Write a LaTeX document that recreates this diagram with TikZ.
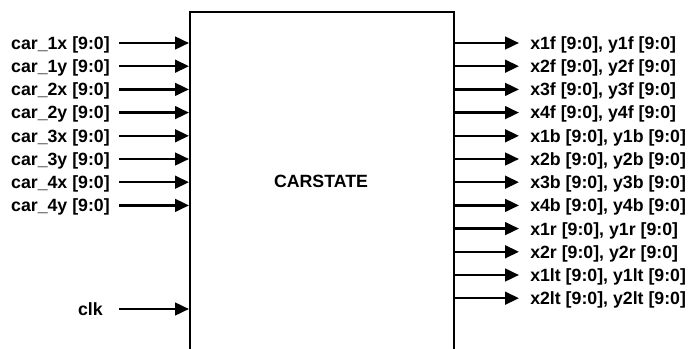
\documentclass[tikz,border=0pt]{standalone}
\usepackage{fontspec}
\setmainfont{Liberation Sans}
\usetikzlibrary{arrows.meta}

\begin{document}
\begin{tikzpicture}[x=0.75pt, y=-0.75pt, >={Triangle[length=10.5pt,width=9.5pt]},
  lbl/.style={font=\fontsize{13.3}{15}\selectfont\bfseries, inner sep=0pt,
    text height=9.6pt, text depth=0pt},
  sig/.style={->, line width=1.9pt}]
  \useasboundingbox (0,0) rectangle (688,349);
  \node[draw, line width=1.5pt, inner sep=0pt, minimum width=198pt,
    minimum height=270pt, anchor=north west] (box) at (189,11) {};
  \node[lbl] (title) at (321,181) {CARSTATE};
  % inputs
  \foreach \nm [count=\i] in {1x,1y,2x,2y,3x,3y,4x,4y} {
    \node[lbl, anchor=east] (in\i) at (110,{43+23.2*(\i-1)}) {car\_\nm{} [9:0]};
    \draw[sig] ([xshift=6.75pt]in\i.east) -- (in\i -| box.west);
  }
  \node[lbl, anchor=east] (clk) at (103,309) {clk};
  \draw[sig] ([xshift=12pt]clk.east) -- (clk -| box.west);
  % outputs
  \foreach \nm [count=\i] in {1f,2f,3f,4f,1b,2b,3b,4b,1r,2r,1lt,2lt} {
    \node[lbl, anchor=west] (out\i) at (530,{43+23.2*(\i-1)}) {x\nm{} [9:0], y\nm{} [9:0]};
    \draw[sig] (out\i -| box.east) -- ([xshift=-8.25pt]out\i.west);
  }
\end{tikzpicture}
\end{document}
